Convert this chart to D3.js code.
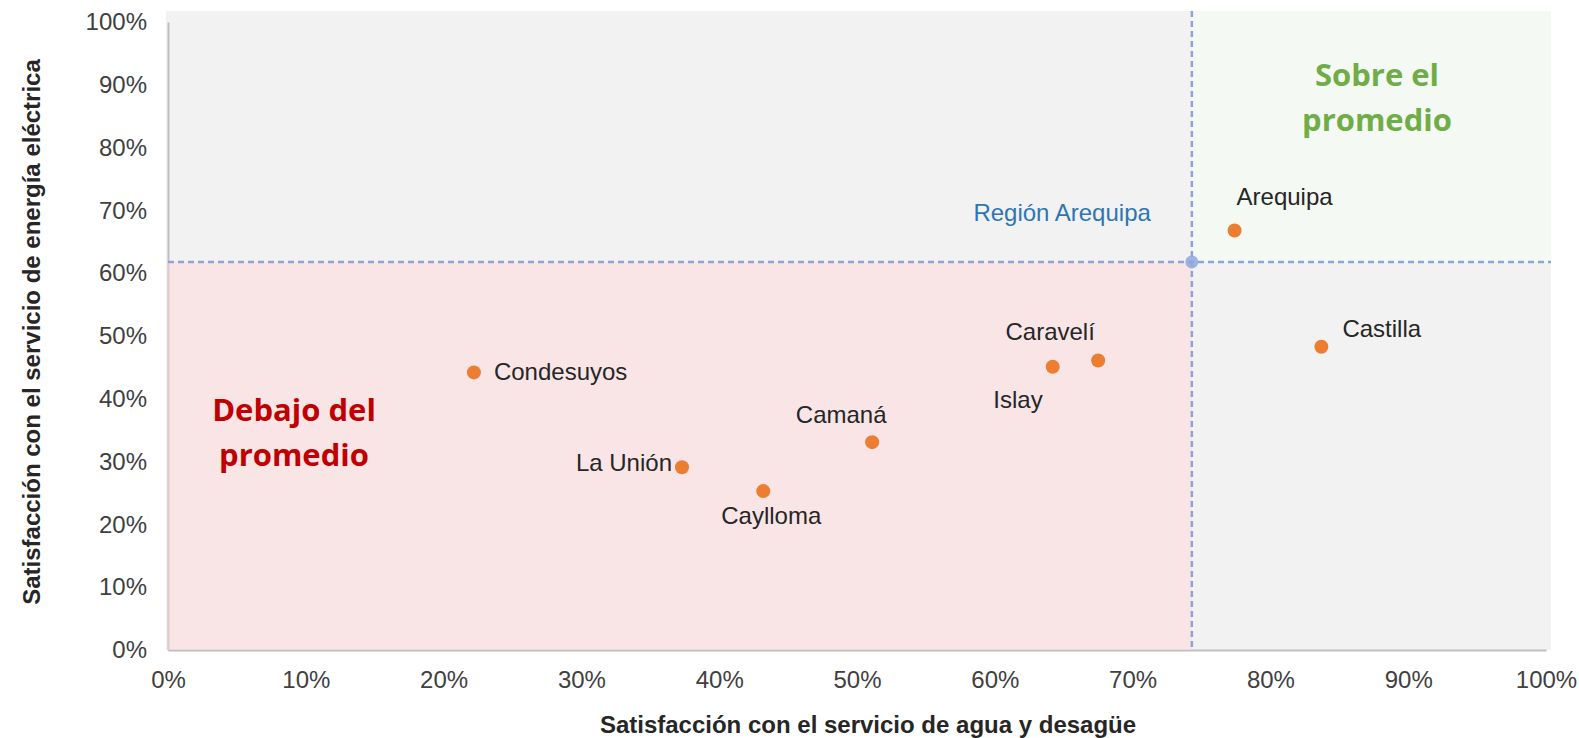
<!DOCTYPE html>
<html>
<head>
<meta charset="utf-8">
<script src="https://cdn.jsdelivr.net/npm/d3@7"></script>
<style>
  body { margin: 0; background: #fff; }
  svg { display: block; font-family: "Liberation Sans", Arial, sans-serif; }
</style>
</head>
<body>
<div id="chart"></div>
<script>
// provinces of Arequipa, satisfaction values in %
var provinces = ["Arequipa", "Castilla", "Caravelí", "Islay", "Condesuyos", "Camaná", "La Unión", "Caylloma"];
var aguaValues = [77.4, 83.7, 67.5, 64.2, 22.2, 51.1, 37.3, 43.2];
var energiaValues = [66.8, 48.3, 46.1, 45.1, 44.2, 33.1, 29.1, 25.3];
// regional average (the crossing point)
var regionName = "Región Arequipa";
var regionAgua = [74.3];
var regionEnergia = [61.8];
var tickValues = [0, 10, 20, 30, 40, 50, 60, 70, 80, 90, 100];

var width = 1579, height = 738;
// note: "top" is taken by window.top, so use other names
var plotLeft = 168, plotRight = 1546, plotTop = 22, plotBottom = 650;

var svg = d3.select("#chart").append("svg")
    .attr("width", width)
    .attr("height", height);

var x = d3.scaleLinear().domain([0, 100]).range([plotLeft, plotRight]);
var y = d3.scaleLinear().domain([0, 100]).range([plotBottom, plotTop]);

var avgX = x(regionAgua[0]), avgY = y(regionEnergia[0]);

// plot background
svg.append("rect")
    .attr("x", plotLeft - 2).attr("y", 11)
    .attr("width", plotRight + 5 - (plotLeft - 2)).attr("height", plotBottom - 11)
    .attr("fill", "#f2f2f2");

// green quadrant (above average on both)
svg.append("rect")
    .attr("x", avgX).attr("y", 11)
    .attr("width", plotRight + 5 - avgX).attr("height", avgY - 11)
    .attr("fill", "#f4f9f4");

// axes
var xAxis = d3.axisBottom(x).tickValues(tickValues).tickSize(0).tickPadding(21)
    .tickFormat(function (d) { return d + "%"; });
var yAxis = d3.axisLeft(y).tickValues(tickValues).tickSize(0).tickPadding(21)
    .tickFormat(function (d) { return d + "%"; });

var gx = svg.append("g").attr("transform", "translate(0," + plotBottom + ")").call(xAxis);
var gy = svg.append("g").attr("transform", "translate(" + plotLeft + ",0)").call(yAxis);
[gx, gy].forEach(function (g) {
    g.select(".domain").attr("stroke", "#bfbfbf").attr("stroke-width", 2);
    g.selectAll("text").attr("fill", "#404040").style("font-size", "24px")
        .style("font-family", "Liberation Sans, Arial, sans-serif");
});

// pink quadrant (below average), drawn over the axis lines like the original
svg.append("rect")
    .attr("x", plotLeft).attr("y", avgY)
    .attr("width", avgX - plotLeft).attr("height", plotBottom - avgY)
    .attr("fill", "rgba(255, 215, 218, 0.5)");

// average reference lines
svg.append("line")
    .attr("x1", plotLeft).attr("x2", plotRight + 5)
    .attr("y1", avgY).attr("y2", avgY)
    .attr("stroke", "#8fa3d9").attr("stroke-width", 2.5).attr("stroke-dasharray", "6,4");
svg.append("line")
    .attr("x1", avgX).attr("x2", avgX)
    .attr("y1", 11).attr("y2", plotBottom)
    .attr("stroke", "#8fa3d9").attr("stroke-width", 2.5).attr("stroke-dasharray", "6,4");

svg.append("circle")
    .attr("cx", avgX).attr("cy", avgY).attr("r", 6.5)
    .attr("fill", "#8fa8dc").attr("fill-opacity", 0.85);
svg.append("text")
    .attr("x", avgX - 41).attr("y", avgY - 41)
    .attr("text-anchor", "end")
    .attr("fill", "#2e75b6").style("font-size", "24px")
    .text(regionName);

// province points
var data = provinces.map(function (p, i) {
    return { name: p, agua: aguaValues[i], energia: energiaValues[i] };
});

svg.selectAll("circle.prov")
    .data(data)
    .enter()
    .append("circle")
    .attr("class", "prov")
    .attr("cx", function (d) { return x(d.agua); })
    .attr("cy", function (d) { return y(d.energia); })
    .attr("r", 7)
    .attr("fill", "#ed7d31");

// label offsets (dx, dy, anchor) for each province
var labelPos = {
    "Arequipa": [2, -25, "start"],
    "Castilla": [21, -10, "start"],
    "Caravelí": [-48, -20, "middle"],
    "Islay": [-10, 41, "end"],
    "Condesuyos": [20, 8, "start"],
    "Camaná": [-31, -19, "middle"],
    "La Unión": [-10, 4, "end"],
    "Caylloma": [8, 33, "middle"]
};

svg.selectAll("text.prov")
    .data(data)
    .enter()
    .append("text")
    .attr("class", "prov")
    .attr("x", function (d) { return x(d.agua) + labelPos[d.name][0]; })
    .attr("y", function (d) { return y(d.energia) + labelPos[d.name][1]; })
    .attr("text-anchor", function (d) { return labelPos[d.name][2]; })
    .attr("fill", "#262626")
    .style("font-size", "24px")
    .text(function (d) { return d.name; });

// quadrant captions
function caption(lines, cx, cy, color) {
    var t = svg.append("text")
        .attr("text-anchor", "middle")
        .attr("fill", color)
        .style("font-family", "Open Sans, sans-serif")
        .style("font-weight", "bold")
        .style("font-size", "31px");
    lines.forEach(function (l, i) {
        t.append("tspan").attr("x", cx).attr("y", cy + i * 45).text(l);
    });
}
caption(["Sobre el", "promedio"], 1377, 86, "#70ad47");
caption(["Debajo del", "promedio"], 294, 421, "#c00000");

// axis titles
svg.append("text")
    .attr("x", 868).attr("y", 733)
    .attr("text-anchor", "middle")
    .attr("fill", "#262626")
    .style("font-size", "24px").style("font-weight", "bold")
    .text("Satisfacción con el servicio de agua y desagüe");
svg.append("text")
    .attr("transform", "translate(40,332) rotate(-90)")
    .attr("text-anchor", "middle")
    .attr("fill", "#262626")
    .style("font-size", "24px").style("font-weight", "bold")
    .text("Satisfacción con el servicio de energía eléctrica");
</script>
</body>
</html>
